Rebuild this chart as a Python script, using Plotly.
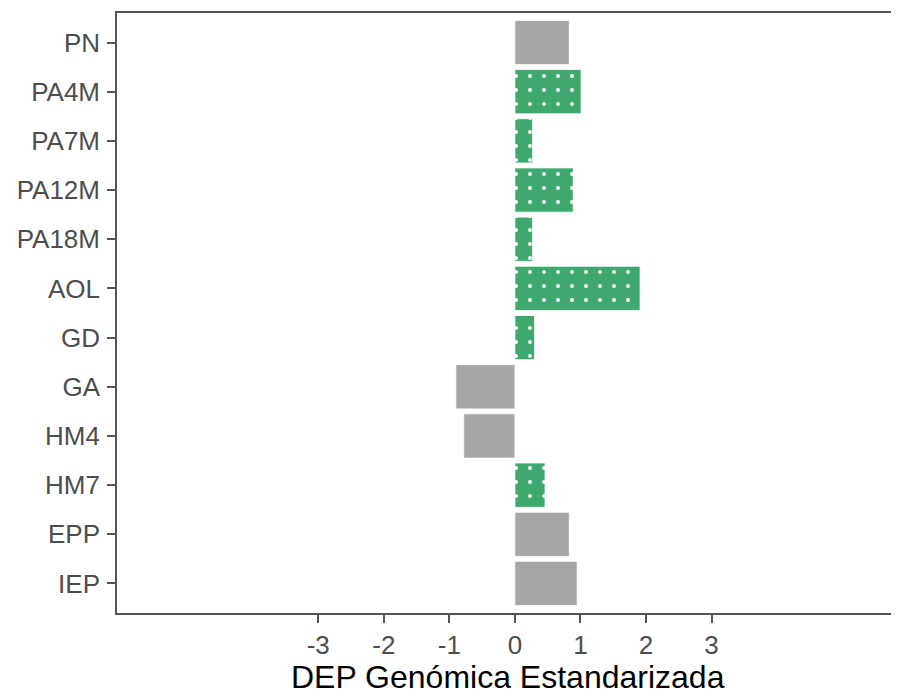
import plotly.graph_objects as go

categories = ["PN", "PA4M", "PA7M", "PA12M", "PA18M", "AOL", "GD", "GA", "HM4", "HM7", "EPP", "IEP"]
values = [0.83, 1.01, 0.27, 0.89, 0.27, 1.91, 0.30, -0.90, -0.78, 0.46, 0.83, 0.95]
highlighted = [False, True, True, True, True, True, True, False, False, True, False, False]
x_ticks = [-3, -2, -1, 0, 1, 2, 3]
x_title = "DEP Genómica Estandarizada"

GREEN = "#3EA86E"
GRAY = "#A6A6A6"

gray_cats = [c for c, h in zip(categories, highlighted) if not h]
gray_vals = [v for v, h in zip(values, highlighted) if not h]
green_cats = [c for c, h in zip(categories, highlighted) if h]
green_vals = [v for v, h in zip(values, highlighted) if h]

fig = go.Figure()
fig.add_trace(go.Bar(
    x=gray_vals, y=gray_cats, orientation="h", width=0.9,
    marker=dict(color=GRAY, line=dict(color="white", width=0.8)),
))
fig.add_trace(go.Bar(
    x=green_vals, y=green_cats, orientation="h", width=0.9,
    marker=dict(
        color=GREEN, line=dict(color="white", width=0.8),
        pattern=dict(shape=".", fillmode="replace", bgcolor=GREEN, fgcolor="#FFFFFF",
                     fgopacity=1, size=14, solidity=0.06),
    ),
))

# the page body adds an 8px offset; size the figure so it fits the window.
# The reference panel runs past the right edge, so no right border is shown.
fig.update_layout(
    width=891, height=687,
    barmode="overlay",
    margin=dict(l=109, r=0, t=5, b=82),
    plot_bgcolor="white", paper_bgcolor="white",
    font=dict(family="Liberation Sans, Arial, sans-serif", size=26, color="#4D4D4D"),
    showlegend=False,
    annotations=[dict(
        text=x_title, xref="paper", yref="paper", x=0.5, y=-0.1067,
        xanchor="center", yanchor="middle", showarrow=False,
        font=dict(size=32, color="black"),
    )],
)
fig.update_xaxes(
    range=[-6.07, 5.86], tickvals=x_ticks, ticktext=[str(t) for t in x_ticks],
    showgrid=False, zeroline=False, automargin=False,
    showline=True, mirror=True, linecolor="#555555", linewidth=1.6,
    ticks="outside", ticklen=8, tickcolor="#555555", tickwidth=1.6,
    ticklabelstandoff=0,
    tickfont=dict(size=26, color="#4D4D4D"),
)
fig.update_yaxes(
    categoryorder="array", categoryarray=categories,
    range=[11.6, -0.6],
    showgrid=False, zeroline=False, automargin=False,
    showline=True, mirror=False, linecolor="#555555", linewidth=1.6,
    ticks="outside", ticklen=8, tickcolor="#555555", tickwidth=1.6,
    ticklabelstandoff=2,
    tickfont=dict(size=26, color="#4D4D4D"),
)

fig.write_html("out.html")
